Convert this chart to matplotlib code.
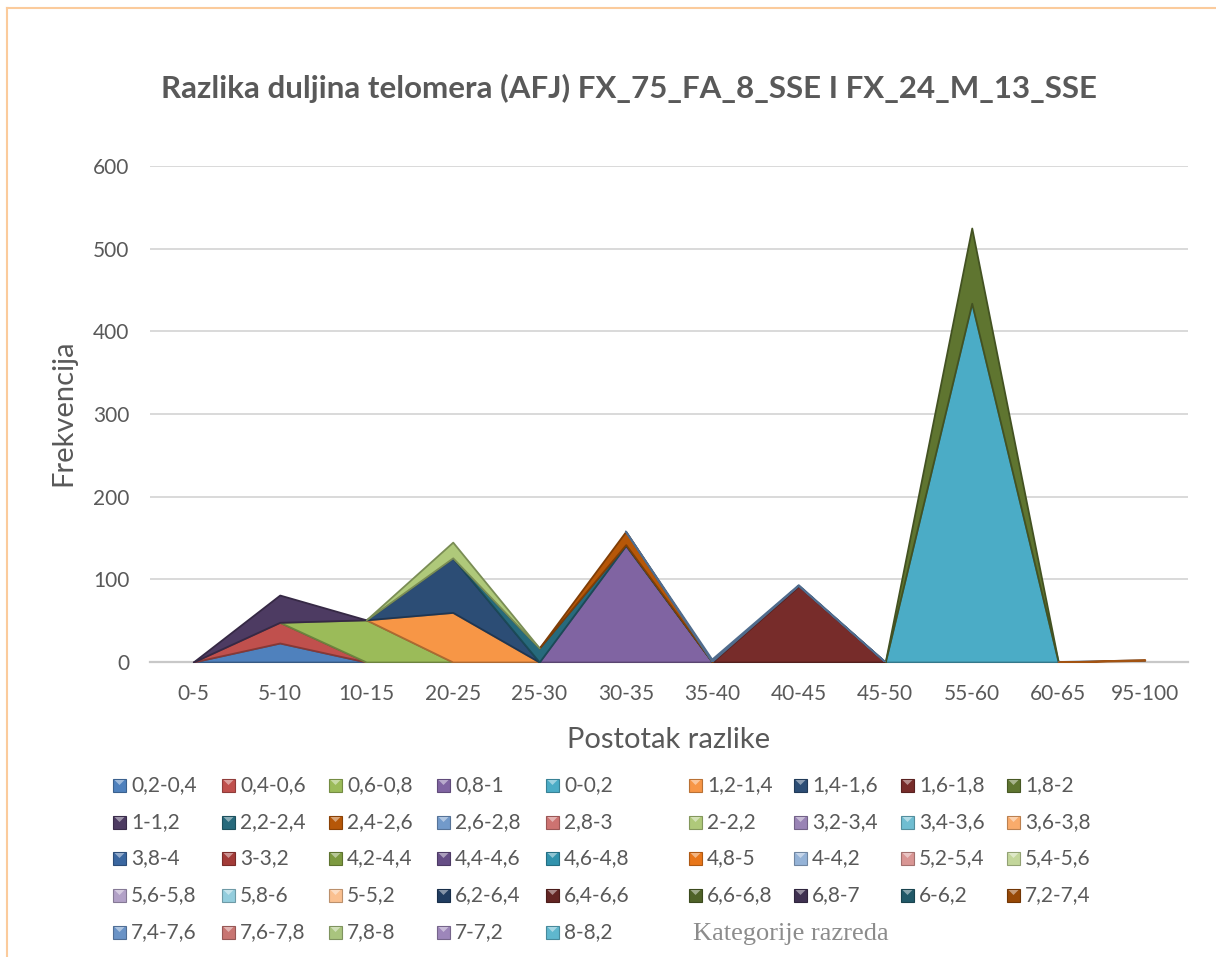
import numpy as np
import matplotlib.pyplot as plt
import matplotlib.colors as mcolors
from matplotlib.patches import Rectangle, Polygon
from matplotlib.lines import Line2D

plt.rcParams['font.family'] = ['Lato', 'DejaVu Sans']

# Kategorije na osi x
categories = ['0-5', '5-10', '10-15', '20-25', '25-30', '30-35', '35-40',
              '40-45', '45-50', '55-60', '60-65', '95-100']

# Serije (redoslijed iz legende, slaganje ide tim redom)
series_names = ['0,2-0,4', '0,4-0,6', '0,6-0,8', '0,8-1', '0-0,2', '1,2-1,4', '1,4-1,6',
                '1,6-1,8', '1,8-2', '1-1,2', '2,2-2,4', '2,4-2,6', '2,6-2,8', '2,8-3',
                '2-2,2', '3,2-3,4', '3,4-3,6', '3,6-3,8', '3,8-4', '3-3,2', '4,2-4,4',
                '4,4-4,6', '4,6-4,8', '4,8-5', '4-4,2', '5,2-5,4', '5,4-5,6', '5,6-5,8',
                '5,8-6', '5-5,2', '6,2-6,4', '6,4-6,6', '6,6-6,8', '6,8-7', '6-6,2',
                '7,2-7,4', '7,4-7,6', '7,6-7,8', '7,8-8', '7-7,2', '8-8,2']

series_colors = ['#4F81BD', '#C0504D', '#9BBB59', '#8064A2', '#4BACC6', '#F79646', '#2C4D75',
                 '#772C2A', '#5F7530', '#4D3B62', '#276A7C', '#B65708', '#729ACA', '#CD7371',
                 '#AFC97A', '#9983B5', '#6FBDD1', '#F9AB6B', '#3A67A0', '#A33B38', '#7D9A40',
                 '#664E86', '#3193AD', '#E8761A', '#95B3D7', '#D99694', '#C3D69B', '#B2A1C7',
                 '#93CDDD', '#FAC090', '#203D61', '#632523', '#4F6228', '#3F3151', '#215968',
                 '#974806', '#6A93C6', '#C87572', '#A9C47E', '#9D86BA', '#5FB7CE']

# Vrijednosti serija koje nisu nula (ostale su sve 0)
v_02_04 = [0, 23, 0, 0, 0, 0, 0, 0, 0, 0, 0, 0]
v_04_06 = [0, 25, 0, 0, 0, 0, 0, 0, 0, 0, 0, 0]
v_06_08 = [0, 0, 51, 0, 0, 0, 0, 0, 0, 0, 0, 0]
v_08_1 = [0, 0, 0, 0, 0, 141, 0, 0, 0, 0, 0, 0]
v_0_02 = [0, 0, 0, 0, 0, 0, 0, 0, 0, 434, 0, 0]
v_12_14 = [0, 0, 0, 60, 0, 0, 0, 0, 0, 0, 0, 0]
v_14_16 = [0, 0, 0, 66, 0, 0, 0, 0, 0, 0, 0, 0]
v_16_18 = [0, 0, 0, 0, 0, 0, 0, 92, 0, 0, 0, 0]
v_18_2 = [0, 0, 0, 0, 0, 0, 0, 0, 0, 91, 0, 0]
v_1_12 = [0, 33, 0, 0, 0, 0, 0, 0, 0, 0, 0, 0]
v_22_24 = [0, 0, 0, 0, 17, 1, 0, 0, 0, 0, 0, 0]
v_24_26 = [0, 0, 0, 0, 0, 16, 0, 0, 0, 0, 0, 0]
v_26_28 = [0, 0, 0, 0, 0, 0, 3, 1, 0, 0, 0, 2]
v_2_22 = [0, 0, 0, 19, 0, 0, 0, 0, 0, 0, 0, 0]
v_48_5 = [0, 0, 0, 0, 0, 0, 0, 0, 0, 0, 0, 1]

values = {'0,2-0,4': v_02_04, '0,4-0,6': v_04_06, '0,6-0,8': v_06_08, '0,8-1': v_08_1,
          '0-0,2': v_0_02, '1,2-1,4': v_12_14, '1,4-1,6': v_14_16, '1,6-1,8': v_16_18,
          '1,8-2': v_18_2, '1-1,2': v_1_12, '2,2-2,4': v_22_24, '2,4-2,6': v_24_26,
          '2,6-2,8': v_26_28, '2-2,2': v_2_22, '4,8-5': v_48_5}

W, H = 1216, 957


def fx(px):
    return px / W


def fy(py):
    return 1 - py / H


def shade(c, f):
    r, g, b = mcolors.to_rgb(c)
    if f < 1:
        return (r * f, g * f, b * f)
    f = f - 1
    return (r + (1 - r) * f, g + (1 - g) * f, b + (1 - b) * f)


fig = plt.figure(figsize=(W / 100, H / 100), dpi=100)
ax = fig.add_axes([fx(150), fy(662), (1188 - 150) / W, (662 - 166) / H])

x = np.arange(len(categories))
stack = np.zeros(len(categories))
for i, name in enumerate(series_names):
    vals = np.array(values.get(name, [0] * len(categories)), dtype=float)
    top = stack + vals
    if vals.any():
        nz = vals > 0
        mask = nz.copy()
        mask[1:] |= nz[:-1]
        mask[:-1] |= nz[1:]
        c = series_colors[i]
        ax.fill_between(x, stack, top, where=mask, facecolor=c,
                        edgecolor=shade(c, 0.7), linewidth=1.3, zorder=3 + i * 0.01)
    stack = top

ax.set_xlim(-0.5, len(categories) - 0.5)
ax.set_ylim(0, 600)
ax.set_yticks(range(0, 700, 100))
ax.set_xticks(x)
ax.set_xticklabels(categories)
ax.set_axisbelow(True)
ax.yaxis.grid(True, color='#D9D9D9', linewidth=1.4)
for s in ['top', 'right', 'left']:
    ax.spines[s].set_visible(False)
ax.spines['bottom'].set_color('#C8C8C8')
ax.spines['bottom'].set_linewidth(1.6)
ax.spines['bottom'].set_zorder(2)
ax.tick_params(axis='both', length=0, labelsize=15, labelcolor='#595959')
ax.tick_params(axis='y', pad=15)
ax.tick_params(axis='x', pad=16)

# Naslov i nazivi osi
fig.text(fx(629), fy(88), 'Razlika duljina telomera (AFJ) FX_75_FA_8_SSE I FX_24_M_13_SSE',
         ha='center', va='center', fontsize=22.5, fontweight='bold', color='#595959')
fig.text(fx(63), fy(413), 'Frekvencija', rotation=90, ha='center', va='center',
         fontsize=21, color='#595959')
fig.text(fx(669), fy(740), 'Postotak razlike', ha='center', va='center',
         fontsize=21, color='#595959')

# Legenda (9 stupaca, redovi slijeva nadesno)
col_x = [113, 222, 329, 437, 546, 689, 794, 901, 1007]
row_y = [785, 822, 858, 895, 932]
sq = 13
for i, name in enumerate(series_names):
    r, cidx = divmod(i, 9)
    x0, yc = col_x[cidx], row_y[r]
    c = series_colors[i]
    fig.add_artist(Rectangle((fx(x0), fy(yc + sq / 2)), sq / W, sq / H,
                             facecolor=c, edgecolor=shade(c, 0.75), linewidth=0.8))
    fig.add_artist(Polygon([(fx(x0 + 1.5), fy(yc - sq / 2 + 1.5)),
                            (fx(x0 + sq - 1.5), fy(yc - sq / 2 + 1.5)),
                            (fx(x0 + sq / 2), fy(yc))],
                           closed=True, facecolor=shade(c, 1.45), edgecolor='none'))
    fig.text(fx(x0 + 18), fy(yc), name, ha='left', va='center', fontsize=15,
             color='#595959')
fig.text(fx(693), fy(934), 'Kategorije razreda', ha='left', va='center', fontsize=19,
         color='#8C8C8C', family='Liberation Serif')

# Okvir grafikona
fig.add_artist(Line2D([fx(7), fx(1216)], [fy(8), fy(8)], color='#FBCB9C', linewidth=1.5))
fig.add_artist(Line2D([fx(7), fx(7)], [fy(8), fy(957)], color='#FBCB9C', linewidth=1.5))

fig.savefig('out.png', dpi=100)
